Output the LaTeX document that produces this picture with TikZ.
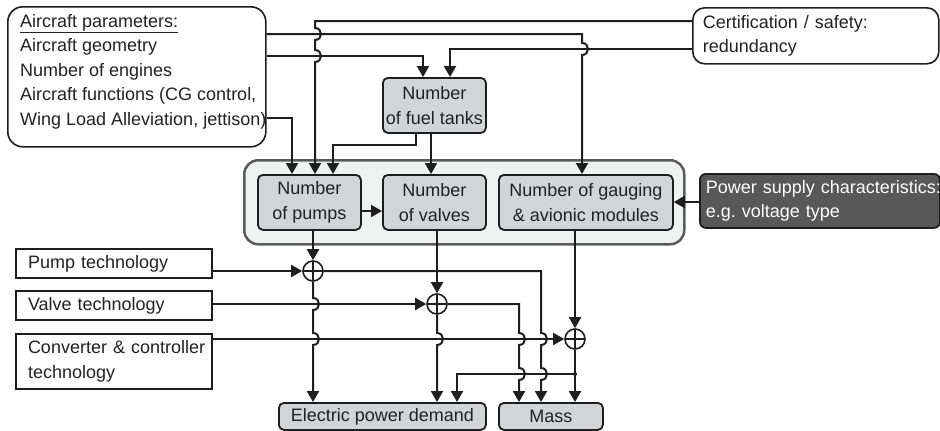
\documentclass[tikz,border=0pt]{standalone}
\usepackage{fontspec}
\setmainfont{Liberation Sans}
\usetikzlibrary{arrows.meta}
\definecolor{ink}{HTML}{1E1E1E}
\definecolor{boxgray}{HTML}{D2D4D5}
\definecolor{contfill}{HTML}{F0F2F2}
\definecolor{contedge}{HTML}{5A5A5A}
\definecolor{darkbox}{HTML}{585858}
\definecolor{txt}{HTML}{222222}
\frenchspacing
\hbadness=10000 \hfuzz=100pt
\begin{document}
\begin{tikzpicture}[x=1pt,y=-1pt,
  font=\fontsize{18}{24.5}\selectfont,
  ln/.style={draw=ink, line width=2pt},
  arr/.style={ln, -{Triangle[length=11pt,width=12pt]}},
  bmp/.style={to path={.. controls ([xshift=8pt]\tikztostart) and ([xshift=8pt]\tikztotarget) .. (\tikztotarget)}},
  gbox/.style={draw=ink, line width=1.8pt, fill=boxgray, rounded corners=5pt, align=center, text=txt, inner sep=0pt, anchor=north west},
  wbox/.style={draw=ink, line width=1.6pt, rounded corners=12pt, fill=white, inner sep=0pt, anchor=north west},
  tbox/.style={draw=ink, line width=2pt, fill=white, anchor=north west, inner ysep=0pt, inner xsep=12pt, text width=172pt, align=left, text=txt},
  sum/.style={circle, draw=ink, line width=1.6pt, minimum size=20pt, inner sep=0pt, fill=white,
    path picture={\draw[ink, line width=1.4pt] (path picture bounding box.north) -- (path picture bounding box.south) (path picture bounding box.west) -- (path picture bounding box.east);}},
]
\useasboundingbox (0,0) rectangle (940,431);

% container
\node[draw=contedge, line width=2.5pt, fill=contfill, rounded corners=14pt, minimum width=440pt, minimum height=84pt, anchor=north west, inner sep=0pt] (cont) at (243,159) {};

% top boxes
\node[wbox, minimum width=258pt, minimum height=140pt, rounded corners=15pt] (ac) at (7,6) {};
\node[anchor=north west, align=left, inner sep=0pt, text=txt] (actext) at (20,14) {\underline{Aircraft parameters:}\\Aircraft geometry\\Number of engines\\Aircraft functions (CG control,\\Wing Load Alleviation, jettison)};
\node[wbox, minimum height=56pt, text width=226pt, inner xsep=10pt, align=left, text=txt] (cert) at (692,7) {\mbox{Certification / safety:}\\redundancy};

\node[gbox, minimum width=103pt, minimum height=55pt] (tanks) at (382,77) {Number\\of fuel tanks};
\node[gbox, minimum width=103pt, minimum height=55pt] (pumps) at (257,174) {Number\\of pumps};
\node[gbox, minimum width=103pt, minimum height=55pt] (valves) at (382,174) {Number\\of valves};
\node[gbox, minimum width=174pt, minimum height=55pt] (gaug) at (498,174) {Number of gauging\\\& avionic modules};
\node[draw=ink, line width=1.8pt, fill=darkbox, rounded corners=6pt, anchor=north west, inner ysep=0pt, inner xsep=6pt, text width=228pt, align=left, text=white, minimum height=54pt] (power) at (699,173) {\mbox{Power supply characteristics:}\\\mbox{e.g. voltage type}};

% technology boxes
\node[tbox, minimum height=29pt] (pt) at (15,248) {\mbox{Pump technology}};
\node[tbox, minimum height=29pt] (vt) at (15,290) {\mbox{Valve technology}};
\node[tbox, minimum height=55pt] (ct) at (15,333) {\mbox{Converter \& controller}\\\mbox{technology}};

% outputs
\node[gbox, minimum width=207pt, minimum height=27pt] (elec) at (278,402) {Electric power demand};
\node[gbox, minimum width=104pt, minimum height=27pt] (mass) at (498,402) {Mass};

% summing junctions
\node[sum] (c1) at (313,271) {};
\node[sum] (c2) at (437,304) {};
\node[sum] (c3) at (575,339) {};
\coordinate (jn) at (575,374);

% top connectors
\draw[arr] (cert.west |- 0,21) -- (315,21) -- (315,28) to[bmp] (315,40) -- (315,50) to[bmp] (315,62) -- (315,0 |- pumps.north);
\draw[arr] (ac.east |- 0,34) -- (582,34) -- (582,43) to[bmp] (582,55) -- (582,0 |- gaug.north);
\draw[arr] (ac.east |- 0,56) -- (423,56) -- (423,0 |- tanks.north);
\draw[arr] (cert.west |- 0,49) -- (450,49) -- (450,0 |- tanks.north);
\draw[arr] (ac.east |- 0,118) -- (292,118) -- (292,0 |- pumps.north);
\draw[arr] (416,0 |- tanks.south) -- (416,145) -- (333,145) -- (333,0 |- pumps.north);
\draw[arr] (431,0 |- tanks.south) -- (431,0 |- valves.north);
\draw[arr] (pumps.east |- 0,211) -- (valves.west |- 0,211);
\draw[arr] (power.west |- 0,202) -- (gaug.east |- 0,202);

% into junctions
\draw[arr] (313,0 |- pumps.south) -- (c1.north);
\draw[arr] (437,0 |- valves.south) -- (c2.north);
\draw[arr] (575,0 |- gaug.south) -- (c3.north);
\draw[arr] (pt.east |- c1) -- (c1.west);
\draw[arr] (vt.east |- c2) -- (c2.west);
\draw[arr] (ct.east |- 0,339) -- (c3.west);

% out of junctions
\draw[arr] (c1.south) -- (313,298) to[bmp] (313,310) -- (313,333) to[bmp] (313,345) -- (313,0 |- elec.north);
\draw[arr] (c1.east) -- (541,271) -- (541,333) to[bmp] (541,345) -- (541,368) to[bmp] (541,380) -- (541,0 |- mass.north);
\draw[arr] (c2.south) -- (437,333) to[bmp] (437,345) -- (437,0 |- elec.north);
\draw[arr] (c2.east) -- (519,304) -- (519,333) to[bmp] (519,345) -- (519,368) to[bmp] (519,380) -- (519,0 |- mass.north);
\draw[arr] (c3.south) -- (575,0 |- mass.north);
\draw[arr] (jn) -- (457,374) -- (457,0 |- elec.north);
\fill[ink] (jn) circle[radius=2pt];
\end{tikzpicture}
\end{document}
